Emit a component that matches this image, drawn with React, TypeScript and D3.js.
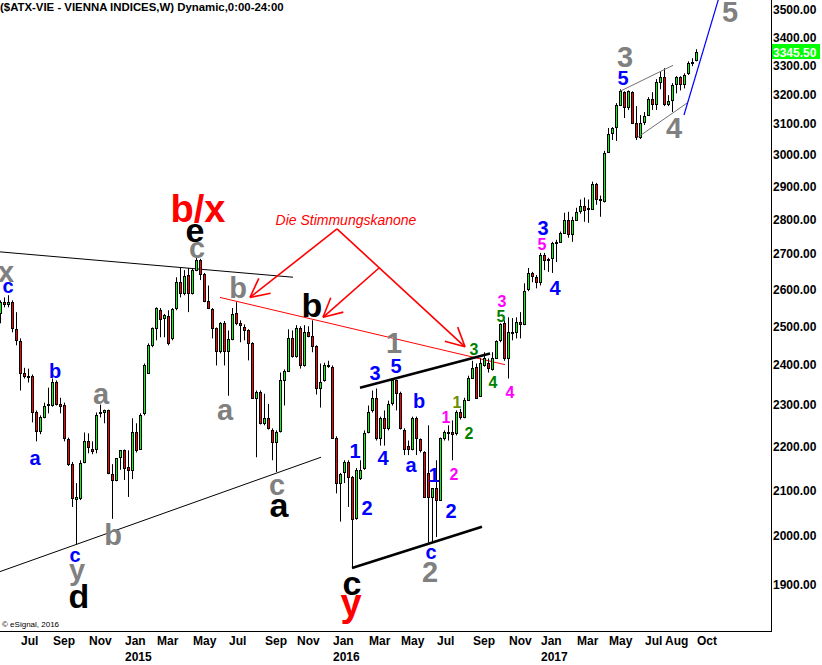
import React from "react";
import * as d3 from "d3";

const START = "2014-06-02";
const TITLE = "($ATX-VIE - VIENNA INDICES,W) Dynamic,0:00-24:00";
const COPYRIGHT = "© eSignal, 2016";
const LAST_PRICE = 3345.5;

// weekly [open, high, low, close]
const ohlc: [number, number, number, number][] = [
  [2535,2570,2508,2565],[2565,2578,2551,2559],[2559,2584,2551,2565],[2565,2570,2484,2495],[2492,2538,2450,2463],
  [2461,2468,2335,2380],[2380,2392,2365,2372],[2370,2390,2355,2372],[2372,2375,2257,2281],[2281,2286,2212,2236],
  [2236,2274,2229,2269],[2271,2305,2267,2298],[2300,2342,2279,2302],[2300,2365,2295,2355],[2357,2360,2298,2302],
  [2302,2317,2279,2298],[2300,2305,2212,2219],[2217,2221,2155,2159],[2159,2164,2063,2083],[2080,2116,1982,2084],
  [2083,2168,2078,2161],[2164,2233,2161,2212],[2212,2231,2184,2198],[2195,2212,2182,2189],[2193,2281,2184,2276],
  [2280,2300,2269,2282],[2281,2288,2255,2286],[2286,2288,2136,2139],[2136,2159,2037,2123],[2123,2173,2120,2173],
  [2175,2191,2146,2191],[2191,2193,2123,2150],[2152,2191,2085,2146],[2146,2267,2125,2233],[2233,2255,2186,2191],
  [2195,2279,2193,2274],[2279,2403,2274,2398],[2380,2455,2378,2450],[2450,2497,2445,2495],[2495,2551,2463,2549],
  [2543,2549,2471,2519],[2522,2533,2471,2530],[2527,2543,2450,2455],[2468,2549,2463,2546],[2549,2634,2543,2620],
  [2620,2660,2578,2589],[2589,2654,2584,2637],[2640,2660,2538,2589],[2589,2660,2586,2654],[2654,2694,2651,2683],
  [2683,2686,2626,2643],[2643,2646,2565,2568],[2568,2611,2546,2549],[2546,2549,2468,2495],[2495,2497,2398,2434],
  [2434,2511,2429,2508],[2508,2514,2398,2434],[2434,2489,2322,2466],[2466,2549,2463,2533],[2535,2565,2503,2508],
  [2508,2516,2458,2503],[2497,2505,2463,2489],[2489,2492,2411,2455],[2455,2458,2315,2317],[2317,2335,2175,2332],
  [2332,2335,2252,2255],[2255,2327,2250,2267],[2267,2302,2240,2243],[2238,2243,2168,2210],[2210,2238,2141,2233],
  [2236,2380,2233,2362],[2362,2388,2298,2385],[2385,2492,2383,2468],[2468,2489,2418,2421],[2421,2503,2418,2495],
  [2495,2500,2390,2398],[2398,2503,2395,2484],[2484,2500,2471,2474],[2474,2516,2432,2447],[2447,2450,2325,2342],
  [2342,2403,2293,2355],[2360,2405,2357,2400],[2398,2410,2392,2400],[2395,2398,2219,2221],[2221,2224,2093,2116],
  [2116,2139,2031,2136],[2141,2168,2116,2164],[2164,2168,2063,2130],[2130,2132,1935,2037],[2039,2150,2035,2146],
  [2128,2168,2123,2146],[2150,2238,2146,2231],[2233,2298,2231,2281],[2286,2335,2281,2317],[2317,2340,2214,2221],
  [2221,2271,2202,2267],[2267,2286,2202,2243],[2243,2310,2238,2302],[2305,2365,2298,2360],[2360,2362,2286,2330],
  [2330,2332,2240,2243],[2240,2243,2180,2195],[2202,2214,2180,2195],[2195,2271,2191,2267],[2267,2271,2180,2219],
  [2217,2219,2186,2191],[2186,2189,2083,2085],[2139,2250,1986,2085],[2085,2105,1986,2105],[2105,2168,1998,2078],
  [2078,2221,2076,2219],[2219,2238,2214,2233],[2231,2250,2214,2234],[2233,2262,2168,2230],[2231,2286,2226,2281],
  [2283,2290,2264,2269],[2271,2317,2267,2312],[2312,2372,2310,2367],[2367,2410,2365,2392],[2395,2403,2315,2317],
  [2322,2416,2320,2405],[2398,2432,2395,2418],[2405,2416,2380,2392],[2390,2432,2385,2418],[2418,2463,2416,2461],
  [2463,2508,2458,2506],[2508,2516,2410,2416],[2416,2524,2365,2484],[2486,2522,2463,2484],[2484,2524,2468,2511],
  [2511,2538,2468,2506],[2506,2617,2503,2597],[2600,2660,2595,2646],[2646,2649,2620,2637],[2634,2640,2603,2620],
  [2620,2703,2611,2697],[2697,2703,2654,2683],[2686,2689,2649,2684],[2689,2735,2646,2732],[2733,2741,2677,2735],
  [2735,2765,2732,2762],[2762,2821,2759,2800],[2800,2824,2747,2759],[2759,2809,2735,2800],[2800,2836,2797,2824],
  [2827,2861,2818,2842],[2842,2867,2794,2830],[2833,2861,2791,2835],[2833,2916,2830,2909],[2909,2912,2845,2864],
  [2861,2873,2809,2864],[2855,3013,2852,3006],[3009,3087,3006,3068],[3071,3090,3048,3087],[3090,3170,3045,3163],
  [3163,3217,3160,3210],[3207,3210,3120,3157],[3157,3213,3147,3210],[3207,3210,3100,3103],[3103,3160,3048,3058],
  [3058,3130,3051,3103],[3107,3140,3097,3127],[3130,3190,3127,3183],[3183,3207,3147,3167],[3167,3252,3147,3241],
  [3241,3279,3217,3259],[3259,3290,3160,3167],[3167,3197,3160,3177],[3180,3238,3140,3231],[3234,3262,3203,3259],
  [3259,3262,3213,3234],[3234,3272,3220,3266],[3272,3314,3266,3307],[3308,3325,3297,3312],[3318,3357,3314,3345.5],
];

const monthLabels = ["Jul","Sep","Nov","Jan","Mar","May","Jul","Sep","Nov","Jan","Mar","May","Jul","Sep","Nov","Jan","Mar","May","Jul","Aug","Oct"];
const monthDates = ["2014-07-07","2014-09-01","2014-11-03","2015-01-05","2015-03-02","2015-05-04","2015-07-06","2015-09-07","2015-11-02","2016-01-04","2016-03-07","2016-05-02","2016-07-04","2016-09-05","2016-11-07","2017-01-02","2017-03-06","2017-05-01","2017-07-03","2017-08-07","2017-10-02"];
const yearLabels = ["2015","2016","2017"];
const yearDates = ["2015-01-05","2016-01-04","2017-01-02"];
const priceTicks = [1900,2000,2100,2200,2300,2400,2500,2600,2700,2800,2900,3000,3100,3200,3300,3400,3500];

// wave labels: [text, week index, price at baseline, degree]
const waveLabels: [string, number, number, string][] = [
  ["b/x",49.5,2794,"R"],["y",87.75,1837,"R"],
  ["e",48.75,2735,"K"],["b",78,2524,"K"],["a",69.75,2041,"K"],["c",88,1879,"K"],["d",19.75,1853,"K"],
  ["x",1.5,2620,"G"],["a",25.25,2302,"G"],["y",19.25,1908,"G"],["b",28.25,1982,"G"],["c",49.25,2689,"G"],
  ["b",59.5,2576,"G"],["a",56.25,2262,"G"],["c",69.25,2089,"G"],["1",98.5,2429,"G"],["2",107.5,1904,"G"],
  ["3",156.25,3293,"G"],["4",168.5,3055,"G"],["5",182.5,3456,"G"],
  ["c",2,2589,"B"],["b",13.75,2367,"B"],["a",8.75,2157,"B"],["c",18.75,1945,"B"],["3",93.75,2360,"B"],
  ["5",99,2380,"B"],["b",104.75,2293,"B"],["1",88.75,2173,"B"],["4",95.75,2157,"B"],["2",91.75,2046,"B"],
  ["a",102.75,2141,"B"],["1",108.5,2118,"B"],["2",112.75,2039,"B"],["c",107.75,1951,"B"],["3",135.75,2756,"B"],
  ["4",138.75,2584,"B"],["5",155.75,3231,"B"],
  ["1",111.5,2255,"M"],["2",113.5,2123,"M"],["3",125.5,2551,"M"],["4",127.5,2317,"M"],["5",135.5,2712,"M"],
  ["1",114.25,2293,"O"],["2",117.25,2217,"N"],["3",118.5,2424,"N"],["4",123.25,2340,"N"],["5",125.25,2511,"N"],
];

// lines: [[week, price], [week, price]]
const thinBlackLines: [number, number][][] = [
  [[0,2706],[73.25,2634]],
  [[-2,1920],[80.25,2175]],
];
const thickBlackLines: [number, number][][] = [
  [[90,2342],[122.5,2429]],
  [[88,1933],[120.5,2020]],
];
const redTrendLine: [number, number][] = [[55,2578],[126.25,2400]];
const wedgeLines: [number, number][][] = [
  [[155,3210],[168.25,3300]],
  [[159.25,3055],[171.75,3170]],
];
const targetLine: [number, number][] = [[171,3130],[180,3560]];

// sentiment arrows
const arrowText = "Die Stimmungskanone";
const arrowTextPos: [number, number] = [86.5, 2785];
const arrowApex: [number, number] = [84.25, 2773];
const arrowBranch: [number, number] = [94.75, 2660];
const arrowTips: [number, number][] = [[62.5,2578],[116.25,2446]];
const branchTip: [number, number] = [80.75, 2524];

const degreeStyle: Record<string, { fill: string; size: number }> = {
  R: { fill: "#ff0000", size: 38 },
  K: { fill: "#000000", size: 34 },
  G: { fill: "#808080", size: 29 },
  B: { fill: "#0000ff", size: 20 },
  M: { fill: "#ff00ff", size: 16 },
  N: { fill: "#008000", size: 16 },
  O: { fill: "#6b8e00", size: 16 },
};

const W = 822, H = 665;
const PLOT_R = 771, PLOT_B = 631;
const FONT = "'Liberation Sans', Arial, Helvetica, sans-serif";
const WEEK = 7 * 864e5;
const weekOf = (d: string) => Math.round((Date.parse(d) - Date.parse(START)) / WEEK);

export default function App() {
  const x = d3.scaleLinear().domain([0, ohlc.length - 1]).range([0, (ohlc.length - 1) * 4]);
  const y = d3.scaleLog().domain([1900, 3500]).range([584.3, 10]);
  const pt = (p: [number, number]) => [x(p[0]), y(p[1])] as [number, number];
  const line = d3.line<[number, number]>().x((d) => x(d[0])).y((d) => y(d[1]));

  const arrowHead = (from: [number, number], to: [number, number], key: string) => {
    const [x1, y1] = pt(from);
    const [x2, y2] = pt(to);
    const ang = Math.atan2(y1 - y2, x1 - x2);
    const L = 21, a = (27 * Math.PI) / 180;
    const b1 = [x2 + L * Math.cos(ang - a), y2 + L * Math.sin(ang - a)];
    const b2 = [x2 + L * Math.cos(ang + a), y2 + L * Math.sin(ang + a)];
    return (
      <g key={key}>
        <line x1={x1} y1={y1} x2={x2} y2={y2} stroke="#ff0000" strokeWidth={1.6} />
        <line x1={x2} y1={y2} x2={b1[0]} y2={b1[1]} stroke="#ff0000" strokeWidth={1.6} />
        <line x1={x2} y1={y2} x2={b2[0]} y2={b2[1]} stroke="#ff0000" strokeWidth={1.6} />
      </g>
    );
  };

  return (
    <svg width={W} height={H} style={{ position: "absolute", left: 0, top: 0, background: "#fff" }}>
      <defs>
        <clipPath id="plotclip">
          <rect x={0} y={0} width={PLOT_R} height={PLOT_B} />
        </clipPath>
      </defs>
      <rect x={0} y={0} width={W} height={H} fill="#fff" />
      <g clipPath="url(#plotclip)">
        {thinBlackLines.map((l, i) => (
          <path key={"tb" + i} d={line(l) || ""} stroke="#000" strokeWidth={1} fill="none" />
        ))}
        <path d={line(redTrendLine) || ""} stroke="#ff0000" strokeWidth={1} fill="none" />
        {ohlc.map((d, i) => {
          const [o, h, l, c] = d;
          const cx = Math.round(x(i));
          const top = Math.round(y(Math.max(o, c)));
          const bot = Math.round(y(Math.min(o, c)));
          const hh = Math.max(bot - top, 1);
          const up = c >= o;
          return (
            <g key={i}>
              <line x1={cx + 0.5} x2={cx + 0.5} y1={y(h)} y2={y(l)} stroke="#000" strokeWidth={1} />
              <rect x={cx - 1} y={top} width={3} height={hh + 1} fill="#000" />
              {hh >= 2 && <rect x={cx} y={top + 1} width={1} height={hh - 1} fill={up ? "#00ff00" : "#ff0000"} />}
            </g>
          );
        })}
        {thickBlackLines.map((l, i) => (
          <path key={"tk" + i} d={line(l) || ""} stroke="#000" strokeWidth={2.6} fill="none" />
        ))}
        {wedgeLines.map((l, i) => (
          <path key={"wg" + i} d={line(l) || ""} stroke="#707070" strokeWidth={1} fill="none" />
        ))}
        <path d={line(targetLine) || ""} stroke="#0000ff" strokeWidth={1.2} fill="none" />
        {arrowTips.map((t, i) => arrowHead(arrowApex, t, "ar" + i))}
        {arrowHead(arrowBranch, branchTip, "arb")}
        <text x={x(arrowTextPos[0])} y={y(arrowTextPos[1])} textAnchor="middle" fontFamily={FONT} fontSize={14} fontStyle="italic" fill="#ff0000">
          {arrowText}
        </text>
        {waveLabels.map(([t, w, p, deg], i) => {
          const s = degreeStyle[deg];
          return (
            <text key={"wl" + i} x={x(w)} y={y(p)} textAnchor="middle" fontFamily={FONT} fontWeight="bold" fontSize={s.size} fill={s.fill}>
              {t}
            </text>
          );
        })}
      </g>
      <text x={0} y={11} fontFamily={FONT} fontWeight="bold" fontSize={11.4} fill="#000">{TITLE}</text>
      <line x1={PLOT_R + 0.5} x2={PLOT_R + 0.5} y1={0} y2={PLOT_B + 1} stroke="#000" strokeWidth={1} />
      <line x1={0} x2={PLOT_R + 1} y1={PLOT_B + 0.5} y2={PLOT_B + 0.5} stroke="#000" strokeWidth={1} />
      {priceTicks.map((p) => (
        <text key={"yt" + p} x={773} y={y(p) + 4.3} fontFamily={FONT} fontWeight="bold" fontSize={12} fill="#000">
          {d3.format(".2f")(p)}
        </text>
      ))}
      <rect x={772} y={Math.round(y(LAST_PRICE)) - 8} width={48} height={15} fill="#00ff00" />
      <text x={773} y={y(LAST_PRICE) + 4.3} fontFamily={FONT} fontWeight="bold" fontSize={12} fill="#ffffff">
        {d3.format(".2f")(LAST_PRICE)}
      </text>
      {monthLabels.map((m, i) => (
        <text key={"mt" + i} x={x(weekOf(monthDates[i])) + 1} y={645} fontFamily={FONT} fontWeight="bold" fontSize={12} fill="#000">
          {m}
        </text>
      ))}
      {yearLabels.map((yl, i) => (
        <text key={"yr" + i} x={x(weekOf(yearDates[i])) + 1} y={661} fontFamily={FONT} fontWeight="bold" fontSize={12} fill="#000">
          {yl}
        </text>
      ))}
      <text x={2} y={627} fontFamily={FONT} fontSize={8} fill="#000">{COPYRIGHT}</text>
    </svg>
  );
}
